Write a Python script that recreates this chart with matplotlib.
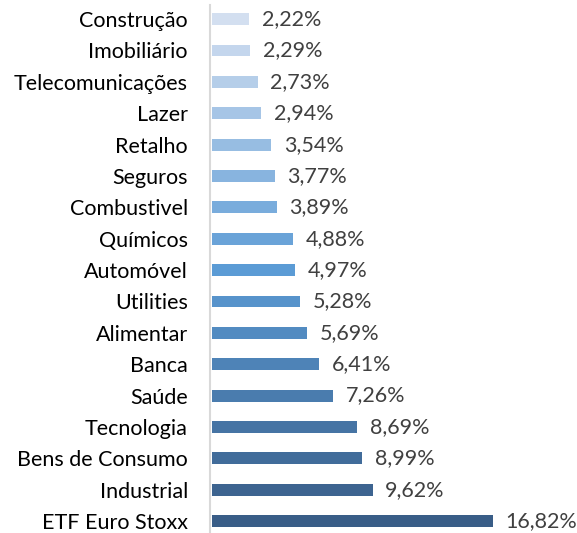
import numpy as np
import matplotlib.pyplot as plt
from matplotlib.colors import LinearSegmentedColormap

# sectores (de cima para baixo) e peso em %
sectores = ["Construção", "Imobiliário", "Telecomunicações", "Lazer", "Retalho",
            "Seguros", "Combustivel", "Químicos", "Automóvel", "Utilities",
            "Alimentar", "Banca", "Saúde", "Tecnologia", "Bens de Consumo",
            "Industrial", "ETF Euro Stoxx"]
pesos = [2.22, 2.29, 2.73, 2.94, 3.54, 3.77, 3.89, 4.88, 4.97, 5.28,
         5.69, 6.41, 7.26, 8.69, 8.99, 9.62, 16.82]

plt.rcParams['font.family'] = ['Lato', 'DejaVu Sans']

# gradiente azul claro -> azul -> azul escuro
cmap = LinearSegmentedColormap.from_list("azuis", ["#D3DFF0", "#5B9BD5", "#395D87"])
cores = [cmap(v) for v in np.linspace(0, 1, len(sectores))]

fig = plt.figure(figsize=(5.77, 5.33), dpi=100)
ax = fig.add_axes([210 / 577, 0, 367 / 577, 528 / 533])

y = np.arange(len(sectores))
ax.barh(y, pesos, height=0.38, color=cores, left=0.12)

for yi, v in zip(y, pesos):
    ax.text(v + 0.12 + 0.75, yi, f"{v:.2f}%".replace(".", ","),
            va="center", ha="left", fontsize=15.5, color="#404040")

ax.set_xlim(0, 21.98)
ax.set_ylim(16.38, -0.45)
ax.set_yticks(y)
ax.set_yticklabels(sectores, fontsize=15.5, color="black")
ax.tick_params(axis="y", length=0, pad=16)
ax.set_xticks([])
for s in ["top", "right", "bottom"]:
    ax.spines[s].set_visible(False)
ax.spines["left"].set_color("#D9D9D9")
ax.spines["left"].set_linewidth(1.5)

fig.savefig("out.png", dpi=100)
